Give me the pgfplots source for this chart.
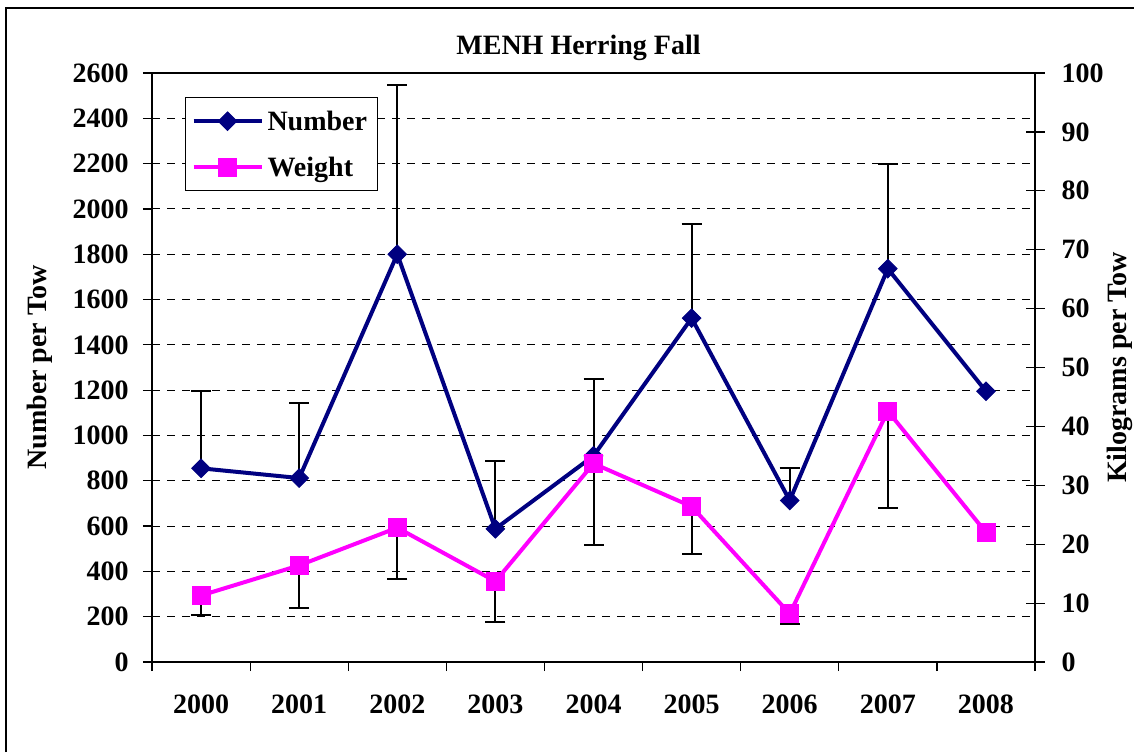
\documentclass[border=0pt]{standalone}
\usepackage{fontspec}
\setmainfont{Liberation Serif}
\usepackage{pgfplots}
\pgfplotsset{compat=1.18}
\definecolor{navyc}{RGB}{0,0,128}
\definecolor{magc}{RGB}{255,0,255}
\newcommand{\lf}{\bfseries\fontsize{14}{16.8}\selectfont}

\pgfplotsset{
  common/.style={
    scale only axis, width=441.5pt, height=294.5pt,
    at={(76pt,45pt)}, anchor=south west,
    xmin=-0.5, xmax=8.5,
    /pgf/number format/assume math mode=true,
    /pgf/number format/1000 sep={},
    scaled y ticks=false,
    ticklabel style={font=\lf},
    label style={font=\lf},
  },
  numstyle/.style={navyc, line width=2pt, mark=square*, mark size=3.3pt,
    mark options={rotate=45, solid, fill=navyc, draw=navyc, line width=0.4pt}},
  wtstyle/.style={magc, line width=2pt, mark=square*, mark size=4.5pt,
    mark options={solid, fill=magc, draw=magc, line width=0.4pt}},
}

\begin{document}
\begin{tikzpicture}
\useasboundingbox (0,0) rectangle (567pt,376pt);
\draw[line width=0.6pt] (3pt,0pt) -- (3pt,372pt) -- (567pt,372pt);

\begin{axis}[common,
  ymin=0, ymax=2600, ytick={0,200,...,2600},
  xtick={-0.5,0.5,...,8.5},
  xticklabels={2000,2001,2002,2003,2004,2005,2006,2007,2008},
  x tick label as interval,
  xtick pos=bottom, ytick pos=left,
  tick align=outside, major tick length=4.6pt,
  tick style={black, line width=0.6pt},
  axis line style={line width=1.1pt},
  xticklabel style={yshift=-8.5pt},
  yticklabel style={xshift=-3.5pt},
  ymajorgrids,
  grid style={black, dash pattern=on 4pt off 3.5pt, line width=0.5pt},
  title={MENH Herring Fall},
  title style={font=\lf, at={(axis description cs:0.483,1)}, anchor=center, yshift=6.5pt},
  ylabel={Number per Tow},
  ylabel style={at={(axis description cs:-0.1268,0.5)}, anchor=center},
]
% upper error bars of Number
\addplot[forget plot, draw=none, mark=none,
  error bars/.cd, y dir=plus, y explicit,
  error bar style={draw=black, line width=1pt, solid},
  error mark=|, error mark options={draw=black, mark size=5pt, line width=1pt}]
coordinates {
 (0,855) +- (0,343)
 (1,812) +- (0,332)
 (2,1800) +- (0,745)
 (3,588) +- (0,300)
 (4,910) +- (0,338)
 (5,1518) +- (0,414)
 (6,713) +- (0,144)
 (7,1736) +- (0,463)
};
\addplot[numstyle] coordinates {
 (0,855) (1,812) (2,1800) (3,588) (4,910) (5,1518) (6,713) (7,1736) (8,1195)
};
\end{axis}

\begin{axis}[common,
  axis y line*=right, axis x line=none,
  ymin=0, ymax=100, ytick={0,10,...,100},
  tick align=center, major tick length=9.5pt,
  tick style={black, line width=0.6pt},
  y axis line style={-, line width=1.1pt},
  yticklabel style={xshift=5pt},
  ylabel={Kilograms per Tow},
  ylabel style={at={(axis description cs:1.0963,0.5)}, anchor=center},
  legend cell align=left,
  legend image code/.code={\draw[mark repeat=2,mark phase=2,#1] plot coordinates {(0pt,0pt) (17pt,0pt) (34pt,0pt)};},
  legend style={at={(axis description cs:0.0374,0.959)}, anchor=north west,
    draw=black, line width=0.5pt, fill=white, font=\lf,
    inner xsep=3pt, inner ysep=5pt, row sep=9.5pt,
    nodes={inner sep=2pt, text height=9.5pt, text depth=0pt}},
]
\addlegendimage{numstyle}
\addlegendentry{Number}
% lower error bars of Weight
\addplot[forget plot, draw=none, mark=none,
  error bars/.cd, y dir=minus, y explicit,
  error bar style={draw=black, line width=1pt, solid},
  error mark=|, error mark options={draw=black, mark size=5pt, line width=1pt}]
coordinates {
 (0,11.3) +- (0,3.4)
 (1,16.4) +- (0,7.3)
 (2,22.8) +- (0,8.7)
 (3,13.7) +- (0,6.9)
 (4,33.7) +- (0,13.9)
 (5,26.4) +- (0,8.1)
 (6,8.2) +- (0,1.8)
 (7,42.6) +- (0,16.4)
};
\addplot[wtstyle] coordinates {
 (0,11.3) (1,16.4) (2,22.8) (3,13.7) (4,33.7) (5,26.4) (6,8.2) (7,42.6) (8,22.0)
};
\addlegendentry{Weight}
\end{axis}
\end{tikzpicture}
\end{document}
